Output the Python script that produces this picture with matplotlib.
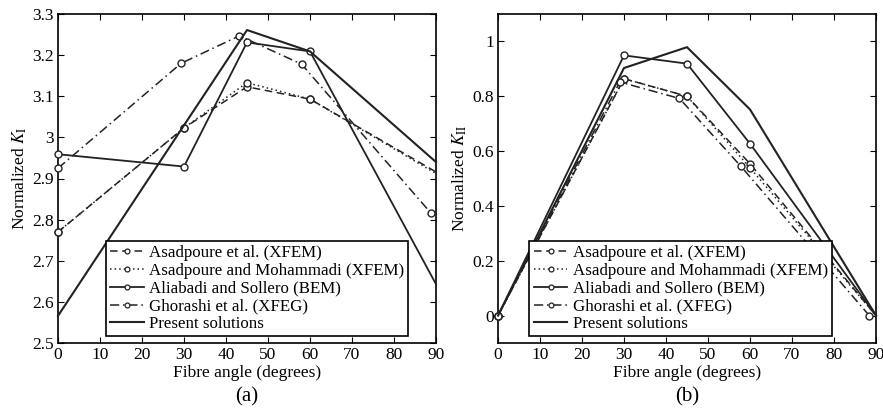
import matplotlib
matplotlib.use("Agg")
import matplotlib.pyplot as plt
from matplotlib.lines import Line2D

plt.rcParams['font.family'] = ['Liberation Serif', 'DejaVu Serif']
plt.rcParams['mathtext.fontset'] = 'stix'

series_names = ["Asadpoure et al. (XFEM)", "Asadpoure and Mohammadi (XFEM)",
                "Aliabadi and Sollero (BEM)", "Ghorashi et al. (XFEG)",
                "Present solutions"]

# Panel (a): normalized K_I
a_asad_x = [0, 30, 45, 60, 90]
a_asad_y = [2.770, 3.023, 3.123, 3.093, 2.916]
a_moh_x = [0, 30, 45, 60, 90]
a_moh_y = [2.770, 3.023, 3.133, 3.093, 2.912]
a_ali_x = [0, 30, 45, 60, 90]
a_ali_y = [2.959, 2.929, 3.231, 3.209, 2.643]
a_gho_x = [0, 29.3, 43.2, 58.0, 88.7]
a_gho_y = [2.925, 3.180, 3.247, 3.178, 2.817]
a_pre_x = [0, 45, 60, 90]
a_pre_y = [2.566, 3.261, 3.209, 2.940]

# Panel (b): normalized K_II
b_asad_x = [0, 30, 45, 60, 90]
b_asad_y = [0.0, 0.864, 0.800, 0.554, 0.0]
b_moh_x = [0, 30, 45, 60, 90]
b_moh_y = [0.0, 0.864, 0.800, 0.539, 0.0]
b_ali_x = [0, 30, 45, 60, 90]
b_ali_y = [0.0, 0.949, 0.919, 0.627, 0.0]
b_gho_x = [0, 29.0, 43.2, 57.8, 88.4]
b_gho_y = [0.0, 0.852, 0.792, 0.545, 0.0]
b_pre_x = [0, 30, 45, 60, 90]
b_pre_y = [0.0, 0.903, 0.979, 0.752, 0.0]

x_ticks = [0, 10, 20, 30, 40, 50, 60, 70, 80, 90]
a_yticks = [2.5, 2.6, 2.7, 2.8, 2.9, 3.0, 3.1, 3.2, 3.3]
a_ylabels = ["2.5", "2.6", "2.7", "2.8", "2.9", "3", "3.1", "3.2", "3.3"]
b_yticks = [0, 0.2, 0.4, 0.6, 0.8, 1.0]
b_ylabels = ["0", "0.2", "0.4", "0.6", "0.8", "1"]

styles = [
    dict(ls=(0, (5, 3)), lw=1.1, marker='o'),
    dict(ls=(0, (1, 2)), lw=1.1, marker='o'),
    dict(ls='-', lw=1.3, marker='o'),
    dict(ls=(0, (6, 2.5, 1, 2.5)), lw=1.1, marker='o'),
    dict(ls='-', lw=1.5, marker=None),
]

fig = plt.figure(figsize=(8.83, 4.09), dpi=100)
axa = fig.add_axes([58/883, 66/409, 378/883, 329/409])
axb = fig.add_axes([498/883, 66/409, 378/883, 329/409])

def draw(ax, data, yticks, ylabels, ylim, ylabel, tag, legx0, labx):
    for (x, y), st in zip(data, styles):
        # markers are not shown at the right boundary (x = 90)
        idx = [i for i, xv in enumerate(x) if xv < 90]
        ax.plot(x, y, color='#222222', linestyle=st['ls'], lw=st['lw'],
                marker=st['marker'], markevery=idx, ms=5, mfc='white',
                mec='#222222', mew=1.0, clip_on=False, zorder=3)
    ax.set_xlim(0, 90)
    ax.set_ylim(*ylim)
    ax.set_xticks(x_ticks)
    ax.set_yticks(yticks)
    ax.set_yticklabels(ylabels)
    ax.tick_params(direction='in', top=True, right=True, length=4, width=0.8,
                   labelsize=12.5, pad=3)
    for sp in ax.spines.values():
        sp.set_linewidth(1.2)
    ax.set_xlabel("Fibre angle (degrees)", fontsize=12.5, labelpad=1)
    ax.set_ylabel(ylabel, fontsize=12.5)
    ax.yaxis.set_label_coords(labx, 0.5)
    ax.text(0.5, -0.165, tag, transform=ax.transAxes, ha='center', va='center',
            fontsize=15)
    handles = []
    for st in styles:
        handles.append(Line2D([], [], color='#222222', linestyle=st['ls'], lw=st['lw'],
                              marker=st['marker'], ms=3.5, mfc='white',
                              mec='#222222', mew=0.9))
    leg = ax.legend(handles, series_names, loc='lower left',
                    bbox_to_anchor=(legx0, 0.02), fontsize=12.2, frameon=True,
                    fancybox=False, edgecolor='black', framealpha=1,
                    handlelength=2.0, handletextpad=0.3, borderpad=0.25,
                    labelspacing=0.1, borderaxespad=0.0, markerscale=1.0)
    leg.get_frame().set_linewidth(1.2)
    leg.set_zorder(5)

draw(axa, [(a_asad_x, a_asad_y), (a_moh_x, a_moh_y), (a_ali_x, a_ali_y),
           (a_gho_x, a_gho_y), (a_pre_x, a_pre_y)],
     a_yticks, a_ylabels, (2.5, 3.3), r"Normalized $K_\mathrm{I}$", "(a)", 0.126, -0.078)
draw(axb, [(b_asad_x, b_asad_y), (b_moh_x, b_moh_y), (b_ali_x, b_ali_y),
           (b_gho_x, b_gho_y), (b_pre_x, b_pre_y)],
     b_yticks, b_ylabels, (-0.1, 1.1), r"Normalized $K_\mathrm{II}$", "(b)", 0.083, -0.076)

fig.savefig("out.png", dpi=100)
